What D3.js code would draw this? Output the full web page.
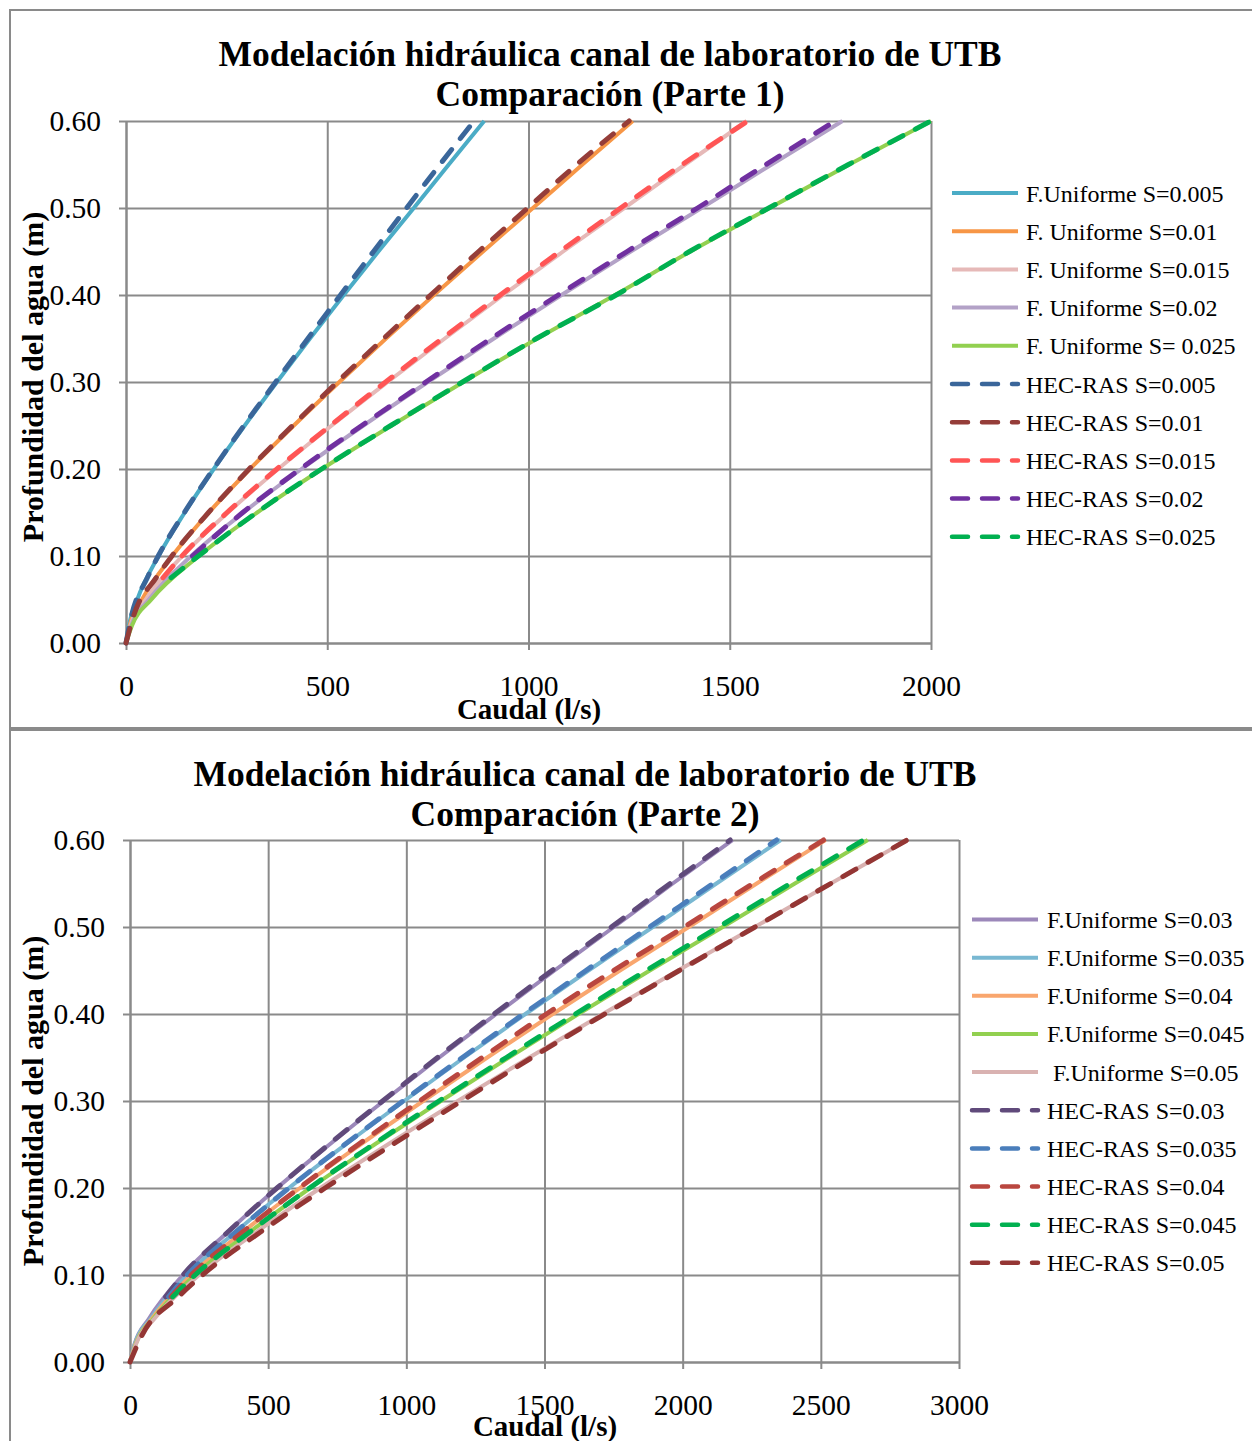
<!DOCTYPE html>
<html><head><meta charset="utf-8">
<script src="https://cdn.jsdelivr.net/npm/d3@7"></script>
<style>
body{margin:0;background:#fff}
svg{display:block}
text{font-family:"Liberation Serif","Times New Roman",serif;fill:#000}
</style></head><body>
<svg id="c" width="1252" height="1441"></svg>
<script>
// ---------- DATA ----------
const depthUni = [0, 0.02, 0.05, 0.1, 0.15, 0.2, 0.25, 0.3, 0.35, 0.4, 0.45, 0.5, 0.55, 0.6];
const depthHec = [0, 0.03, 0.075, 0.1, 0.15, 0.2, 0.25, 0.3, 0.35, 0.4, 0.45, 0.5, 0.55, 0.6];

// Part 1 - F. Uniforme (caudal l/s at each depthUni)
const uni005 = [0, 7, 28, 81, 146, 218, 295, 375, 457, 541, 627, 715, 802, 890];
const uni010 = [0, 9, 40, 115, 206, 308, 417, 530, 646, 765, 887, 1011, 1134, 1259];
const uni015 = [0, 11, 49, 140, 253, 378, 511, 650, 792, 937, 1086, 1238, 1389, 1542];
const uni020 = [0, 13, 57, 162, 292, 436, 590, 750, 914, 1082, 1254, 1430, 1604, 1780];
const uni025 = [0, 15, 63, 181, 326, 487, 660, 838, 1022, 1215, 1402, 1599, 1797, 2000];
// Part 1 - HEC-RAS (caudal l/s at each depthHec)
const hec005 = [0, 13, 53, 80, 145, 217, 293, 372, 452, 533, 615, 697, 780, 865];
const hec010 = [0, 18, 75, 114, 205, 306, 414, 525, 640, 757, 876, 998, 1120, 1250];
const hec015 = [null, null, 92, 139, 251, 375, 508, 645, 786, 930, 1078, 1229, 1382, 1545];
const hec020 = [null, null, null, 165, 290, 433, 586, 745, 907, 1074, 1245, 1420, 1590, 1762];
const hec025 = [null, null, 112, 180, 325, 486, 658, 836, 1020, 1218, 1400, 1597, 1795, 2000];

// Part 2 - F. Uniforme
const uni030 = [0, 16, 69, 192, 356, 532, 722, 918, 1119, 1325, 1536, 1751, 1964, 2180];
const uni035 = [0, 17, 75, 207, 384, 575, 780, 992, 1209, 1431, 1659, 1892, 2122, 2355];
const uni040 = [0, 19, 80, 222, 411, 615, 834, 1061, 1293, 1530, 1773, 2022, 2268, 2517];
const uni045 = [0, 20, 85, 235, 436, 652, 885, 1125, 1371, 1623, 1881, 2145, 2406, 2670];
const uni050 = [0, 21, 89, 250, 460, 689, 933, 1186, 1445, 1711, 1983, 2261, 2536, 2814];
// Part 2 - HEC-RAS
const hec030 = [null, null, 129, 192, 356, 532, 719, 914, 1113, 1318, 1527, 1742, 1955, 2172];
const hec035 = [null, null, 140, 207, 385, 575, 777, 988, 1203, 1424, 1650, 1880, 2110, 2340];
const hec040 = [null, null, 149, 222, 410, 612, 826, 1048, 1275, 1507, 1750, 2005, 2255, 2510];
const hec045 = [null, null, 155, 236, 436, 650, 880, 1118, 1362, 1612, 1868, 2130, 2390, 2655];
const hec050 = [0, 42, 175, 262, 475, 706, 950, 1200, 1455, 1718, 1988, 2262, 2536, 2812];

const yTicks = [0, 0.1, 0.2, 0.3, 0.4, 0.5, 0.6];
const xTicks1 = [0, 500, 1000, 1500, 2000];
const xTicks2 = [0, 500, 1000, 1500, 2000, 2500, 3000];

const names1 = ["F.Uniforme S=0.005", "F. Uniforme S=0.01", "F. Uniforme S=0.015", "F. Uniforme S=0.02", "F. Uniforme S= 0.025",
                "HEC-RAS S=0.005", "HEC-RAS S=0.01", "HEC-RAS S=0.015", "HEC-RAS S=0.02", "HEC-RAS S=0.025"];
const names2 = ["F.Uniforme S=0.03", "F.Uniforme S=0.035", "F.Uniforme S=0.04", "F.Uniforme S=0.045", " F.Uniforme S=0.05",
                "HEC-RAS S=0.03", "HEC-RAS S=0.035", "HEC-RAS S=0.04", "HEC-RAS S=0.045", "HEC-RAS S=0.05"];

// ---------- STYLE / LAYOUT ----------
const charts = [
  {
    title: ["Modelación hidráulica canal de laboratorio de UTB", "Comparación (Parte 1)"],
    titleX: 610, titleY: [66, 106],
    xmax: 2000, xTicks: xTicks1,
    px: [126, 931], py: [643, 121],
    xTitleX: 529, xTitleY: 719, yTitleX: 33, yTitleY: 377,
    legX: 950, legTextX: 1026, legY: 193, legStep: 38.2,
    names: names1,
    series: [
      {v: uni005, d: depthUni, c: "#4BACC6", dash: false},
      {v: uni010, d: depthUni, c: "#F79646", dash: false},
      {v: uni015, d: depthUni, c: "#E6B9B8", dash: false},
      {v: uni020, d: depthUni, c: "#B3A2C7", dash: false},
      {v: uni025, d: depthUni, c: "#92D050", dash: false},
      {v: hec005, d: depthHec, c: "#3A669A", dash: true},
      {v: hec010, d: depthHec, c: "#953D39", dash: true},
      {v: hec015, d: depthHec, c: "#FF5555", dash: true},
      {v: hec020, d: depthHec, c: "#7030A0", dash: true},
      {v: hec025, d: depthHec, c: "#00B050", dash: true}
    ]
  },
  {
    title: ["Modelación hidráulica canal de laboratorio de UTB", "Comparación (Parte 2)"],
    titleX: 585, titleY: [786, 826],
    xmax: 3000, xTicks: xTicks2,
    px: [130, 959], py: [1362, 840],
    xTitleX: 545, xTitleY: 1436, yTitleX: 33, yTitleY: 1101,
    legX: 970, legTextX: 1047, legY: 919.5, legStep: 38.15,
    names: names2,
    series: [
      {v: uni030, d: depthUni, c: "#9C88BA", dash: false},
      {v: uni035, d: depthUni, c: "#79B8D2", dash: false},
      {v: uni040, d: depthUni, c: "#F9A66E", dash: false},
      {v: uni045, d: depthUni, c: "#92D050", dash: false},
      {v: uni050, d: depthUni, c: "#D9B2B1", dash: false},
      {v: hec030, d: depthHec, c: "#604A7B", dash: true},
      {v: hec035, d: depthHec, c: "#4A7EBB", dash: true},
      {v: hec040, d: depthHec, c: "#B9463F", dash: true},
      {v: hec045, d: depthHec, c: "#00B050", dash: true},
      {v: hec050, d: depthHec, c: "#943634", dash: true}
    ]
  }
];

const GRID = "#8A8A8A";
const svg = d3.select("#c");

// outer frames
svg.append("line").attr("x1", 10).attr("x2", 10).attr("y1", 9).attr("y2", 1441).attr("stroke", GRID).attr("stroke-width", 2);
svg.append("line").attr("x1", 9).attr("x2", 1252).attr("y1", 10).attr("y2", 10).attr("stroke", GRID).attr("stroke-width", 2);
svg.append("line").attr("x1", 9).attr("x2", 1252).attr("y1", 729).attr("y2", 729).attr("stroke", GRID).attr("stroke-width", 4);

charts.forEach(cfg => {
  const g = svg.append("g");
  const x = d3.scaleLinear().domain([0, cfg.xmax]).range(cfg.px);
  const y = d3.scaleLinear().domain([0, 0.6]).range(cfg.py);
  const w = cfg.px[1] - cfg.px[0], h = cfg.py[0] - cfg.py[1];

  // grid
  const gy = g.append("g").attr("transform", `translate(${cfg.px[0]},0)`)
    .call(d3.axisLeft(y).tickValues(yTicks).tickSize(-w).tickFormat(""));
  const gx = g.append("g").attr("transform", `translate(0,${cfg.py[0]})`)
    .call(d3.axisBottom(x).tickValues(cfg.xTicks).tickSize(-h).tickFormat(""));
  [gy, gx].forEach(a => { a.select(".domain").remove(); a.selectAll("line").attr("stroke", GRID).attr("stroke-width", 2); });

  // axes with labels
  const ay = g.append("g").attr("transform", `translate(${cfg.px[0]},0)`)
    .call(d3.axisLeft(y).tickValues(yTicks).tickSizeInner(7).tickSizeOuter(0).tickPadding(18).tickFormat(d3.format(".2f")));
  const ax = g.append("g").attr("transform", `translate(0,${cfg.py[0]})`)
    .call(d3.axisBottom(x).tickValues(cfg.xTicks).tickSizeInner(7).tickSizeOuter(0).tickPadding(25).tickFormat(d3.format("d")));
  [ay, ax].forEach(a => {
    a.select(".domain").attr("stroke", GRID).attr("stroke-width", 2);
    a.selectAll("line").attr("stroke", GRID).attr("stroke-width", 2);
    a.selectAll("text").attr("font-family", "'Liberation Serif','Times New Roman',serif").attr("font-size", 29.5).attr("fill", "#000");
  });

  // series
  const line = d3.line()
    .defined(d => d[0] != null)
    .x(d => x(d[0])).y(d => y(d[1]))
    .curve(d3.curveMonotoneX);
  cfg.series.forEach(s => {
    const pts = s.v.map((q, i) => [q, s.d[i]]);
    g.append("path").datum(pts)
      .attr("d", line)
      .attr("fill", "none")
      .attr("stroke", s.c)
      .attr("stroke-width", s.dash ? 5 : 4)
      .attr("stroke-linecap", s.dash ? "round" : "butt")
      .attr("stroke-linejoin", "round")
      .attr("stroke-dasharray", s.dash ? "15,14" : null);
  });

  // titles
  cfg.title.forEach((t, i) => {
    g.append("text").attr("x", cfg.titleX).attr("y", cfg.titleY[i])
      .attr("text-anchor", "middle").attr("font-size", 35.5).attr("font-weight", "bold").text(t);
  });
  g.append("text").attr("x", cfg.xTitleX).attr("y", cfg.xTitleY)
    .attr("text-anchor", "middle").attr("font-size", 29).attr("font-weight", "bold").text("Caudal (l/s)");
  g.append("text").attr("transform", `translate(${cfg.yTitleX + 10},${cfg.yTitleY}) rotate(-90)`)
    .attr("text-anchor", "middle").attr("font-size", 30).attr("font-weight", "bold").text("Profundidad del agua (m)");

  // legend
  cfg.series.forEach((s, i) => {
    const ly = cfg.legY + i * cfg.legStep;
    g.append("line").attr("x1", cfg.legX + 2).attr("x2", cfg.legX + 68).attr("y1", ly).attr("y2", ly)
      .attr("stroke", s.c).attr("stroke-width", s.dash ? 4.5 : 4)
      .attr("stroke-linecap", s.dash ? "round" : "butt")
      .attr("stroke-dasharray", s.dash ? "16,14" : null);
    g.append("text").attr("x", cfg.legTextX).attr("y", ly + 8.5)
      .attr("font-size", 24).attr("xml:space", "preserve").style("white-space", "pre").text(cfg.names[i]);
  });
});
</script>
</body></html>
